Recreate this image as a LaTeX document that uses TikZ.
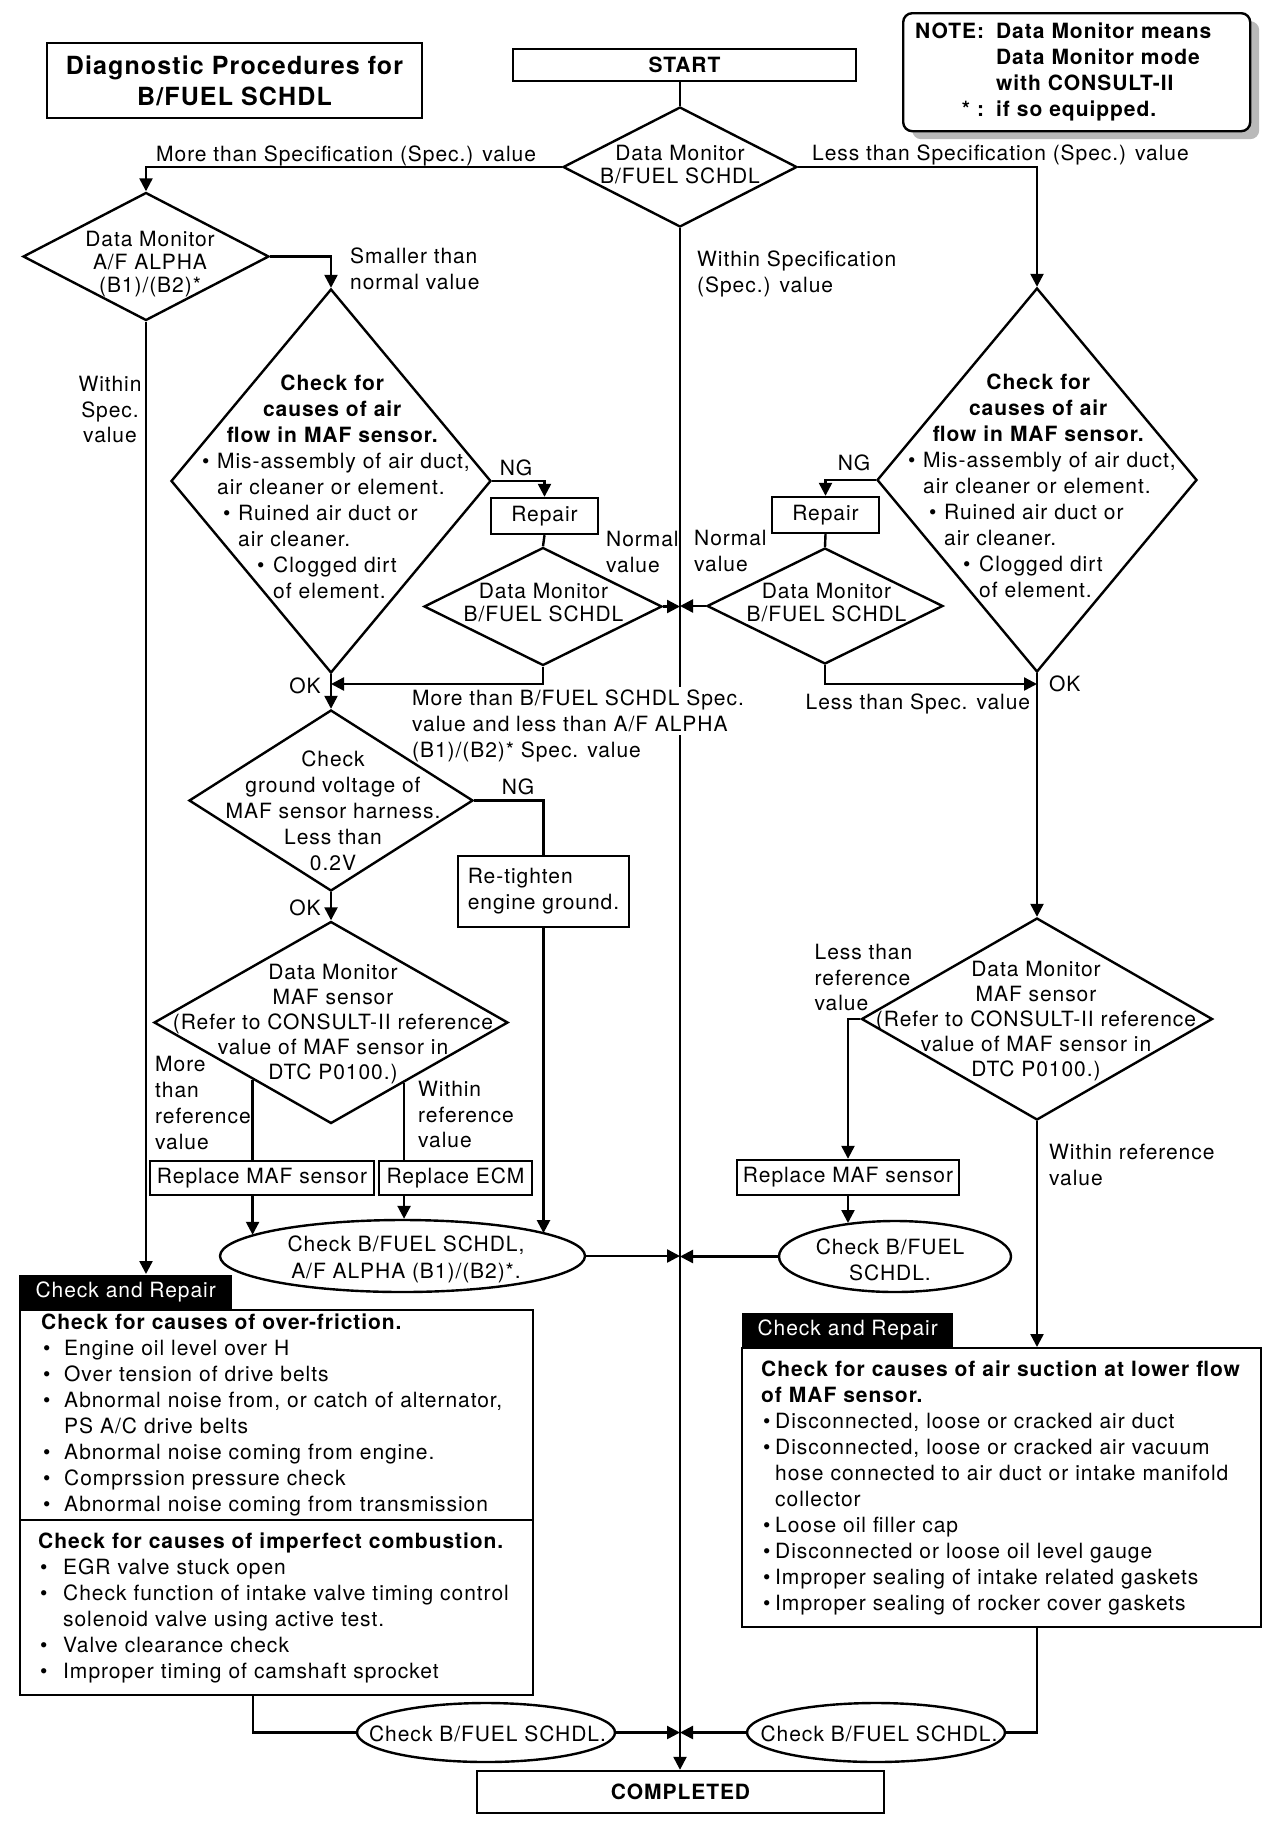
\documentclass[tikz,border=0pt]{standalone}
\usepackage{fontspec}
\setmainfont{TeX Gyre Heros}[LetterSpace=4.5]
\usetikzlibrary{shapes.geometric,arrows.meta,calc,shadows}

\newcommand{\bul}[1]{\makebox[#1][l]{•}}
\newcommand{\mafcauses}{%
  \makebox[270pt][c]{\bfseries Check for}\\
  \makebox[270pt][c]{\bfseries causes of air}\\
  \makebox[270pt][c]{\bfseries flow in MAF sensor.}\\
  \hspace*{5pt}\bul{15pt}Mis-assembly of air duct,\\
  \hspace*{20pt}air cleaner or element.\\
  \hspace*{26pt}\bul{15pt}Ruined air duct or\\
  \hspace*{41pt}air cleaner.\\
  \hspace*{60pt}\bul{16pt}Clogged dirt\\
  \hspace*{76pt}of element.}

\begin{document}
\begin{tikzpicture}[x=1pt,y=-1pt,line width=2.4pt,
  every node/.style={inner sep=0pt,font=\fontsize{21}{26}\selectfont},
  rbox/.style={draw,rectangle},
  dmnd/.style={draw,diamond},
  oval/.style={draw,ellipse},
  dtxt/.style={align=center,anchor=north,font=\fontsize{21}{23}\selectfont},
  lbl/.style={align=left,anchor=north west},
  tab/.style={fill=black,text=white,anchor=north west,minimum height=34pt},
  arr/.style={-{Stealth[length=13pt,width=13pt,inset=0pt]}}]
  \useasboundingbox (0,0) rectangle (1280,1826);

  % headers
  \node[rbox,minimum width=375pt,minimum height=75pt,align=center,
    font=\fontsize{25}{31}\selectfont\bfseries] (title) at (234.5,80.5)
    {Diagnostic Procedures for\\B/FUEL SCHDL};
  \node[rbox,minimum width=343pt,minimum height=32pt,
    font=\fontsize{21}{26}\selectfont\bfseries] (start) at (684.5,65) {START};
  \node[rbox,fill=white,rounded corners=9pt,anchor=north west,minimum width=347pt,
    minimum height=118pt,text width=323pt,align=left,
    font=\fontsize{21}{26}\selectfont\bfseries,
    drop shadow={shadow xshift=9pt,shadow yshift=-8pt,fill=gray!55,opacity=1}] (note) at (902,12)
    {\begin{tabular}{@{}r@{\hspace{12pt}}l@{}}NOTE: & Data Monitor means\\
      & Data Monitor mode\\ & with CONSULT-II\\ {*} : & if so equipped.\end{tabular}};

  % decisions
  \node[dmnd,minimum width=234pt,minimum height=120pt] (d1) at (680,167) {};
  \node[dtxt] (d1t) at (680,144) {Data Monitor\\B/FUEL SCHDL};
  \node[dmnd,minimum width=246pt,minimum height=128pt] (d2) at (146,256.5) {};
  \node[dtxt] (d2t) at (150,230) {Data Monitor\\A/F ALPHA\\(B1)/(B2)*};
  \node[dmnd,minimum width=320pt,minimum height=384pt] (d3) at (331,481) {};
  \node[anchor=north west,text width=290pt,align=left] (d3t) at (196,374) {\mafcauses};
  \node[dmnd,minimum width=238pt,minimum height=118pt] (d4) at (543,606.5) {};
  \node[dtxt] (d4t) at (543.5,582) {Data Monitor\\B/FUEL SCHDL};
  \node[dmnd,minimum width=320pt,minimum height=384pt] (d6) at (1037,480) {};
  \node[anchor=north west,text width=290pt,align=left] (d6t) at (902,373) {\mafcauses};
  \node[dmnd,minimum width=236pt,minimum height=116pt] (d7) at (825,606) {};
  \node[dtxt] (d7t) at (826.5,582) {Data Monitor\\B/FUEL SCHDL};
  \node[dmnd,minimum width=284pt,minimum height=181pt] (d5) at (331,800.5) {};
  \node[dtxt,font=\fontsize{21}{26}\selectfont] (d5t) at (333,750)
    {Check\\ground voltage of\\MAF sensor harness.\\Less than\\0.2V};
  \node[dmnd,minimum width=354pt,minimum height=202pt] (d8) at (331,1022.5) {};
  \node[dtxt,font=\fontsize{21}{25}\selectfont] (d8t) at (333,963)
    {Data Monitor\\MAF sensor\\(Refer to CONSULT-II reference\\value of MAF sensor in\\DTC P0100.)};
  \node[dmnd,minimum width=351pt,minimum height=202pt] (d9) at (1037,1019) {};
  \node[dtxt,font=\fontsize{21}{25}\selectfont] (d9t) at (1036,960)
    {Data Monitor\\MAF sensor\\(Refer to CONSULT-II reference\\value of MAF sensor in\\DTC P0100.)};

  % actions
  \node[rbox,minimum width=107pt,minimum height=36pt] (repL) at (544.5,516) {Repair};
  \node[rbox,minimum width=107pt,minimum height=36pt] (repR) at (825.5,515) {Repair};
  \node[rbox,minimum width=171pt,minimum height=71pt,align=left] (retighten) at (543.5,891.5)
    {Re-tighten\\engine ground.};
  \node[rbox,minimum width=224pt,minimum height=34pt] (repM) at (262,1178) {Replace MAF sensor};
  \node[rbox,minimum width=153pt,minimum height=34pt] (repE) at (455.5,1178) {Replace ECM};
  \node[rbox,minimum width=222pt,minimum height=35pt] (repM2) at (848,1177.5) {Replace MAF sensor};

  % checks
  \node[oval,minimum width=365pt,minimum height=72pt] (e1) at (402.5,1256) {};
  \node[dtxt,font=\fontsize{21}{27}\selectfont] (e1t) at (406,1235) {Check B/FUEL SCHDL,\\A/F ALPHA (B1)/(B2)*.};
  \node[oval,minimum width=232pt,minimum height=71pt] (e2) at (895,1256.5) {};
  \node[dtxt,font=\fontsize{21}{26}\selectfont] (e2t) at (890,1238) {Check B/FUEL\\SCHDL.};
  \node[oval,minimum width=258pt,minimum height=59pt] (e3) at (486,1732.5) {};
  \node[dtxt] (e3t) at (487.5,1725) {Check B/FUEL SCHDL.};
  \node[oval,minimum width=258pt,minimum height=59pt] (e4) at (876,1732.5) {};
  \node[dtxt] (e4t) at (879,1725) {Check B/FUEL SCHDL.};

  % check and repair
  \node[tab,minimum width=213pt] (cr1tab) at (18,1274) {Check and Repair};
  \node[rbox,anchor=north west,minimum width=513pt,minimum height=210pt,text width=500pt,
    align=left] (cr1a) at (19,1309) {%
    \hspace*{14.5pt}\textbf{Check for causes of over-friction.}\\
    \hspace*{16.5pt}\bul{21pt}Engine oil level over H\\
    \hspace*{16.5pt}\bul{21pt}Over tension of drive belts\\
    \hspace*{16.5pt}\bul{21pt}Abnormal noise from, or catch of alternator,\\
    \hspace*{37.5pt}PS A/C drive belts\\
    \hspace*{16.5pt}\bul{21pt}Abnormal noise coming from engine.\\
    \hspace*{16.5pt}\bul{21pt}Comprssion pressure check\\
    \hspace*{16.5pt}\bul{21pt}Abnormal noise coming from transmission};
  \node[rbox,anchor=north west,minimum width=513pt,minimum height=175pt,text width=500pt,
    align=left] (cr1b) at (19,1519) {%
    \hspace*{11.5pt}\textbf{Check for causes of imperfect combustion.}\\
    \hspace*{13.5pt}\bul{23pt}EGR valve stuck open\\
    \hspace*{13.5pt}\bul{23pt}Check function of intake valve timing control\\
    \hspace*{36.5pt}solenoid valve using active test.\\
    \hspace*{13.5pt}\bul{23pt}Valve clearance check\\
    \hspace*{13.5pt}\bul{23pt}Improper timing of camshaft sprocket};
  \node[tab,minimum width=211pt] (cr2tab) at (741,1312) {Check and Repair};
  \node[rbox,anchor=north west,minimum width=519pt,minimum height=279pt,text width=505pt,
    align=left] (cr2) at (741,1347) {%
    \hspace*{12pt}\textbf{Check for causes of air suction at lower flow}\\
    \hspace*{12pt}\textbf{of MAF sensor.}\\
    \hspace*{14pt}\bul{12pt}Disconnected, loose or cracked air duct\\
    \hspace*{14pt}\bul{12pt}Disconnected, loose or cracked air vacuum\\
    \hspace*{26pt}hose connected to air duct or intake manifold\\
    \hspace*{26pt}collector\\
    \hspace*{14pt}\bul{12pt}Loose oil filler cap\\
    \hspace*{14pt}\bul{12pt}Disconnected or loose oil level gauge\\
    \hspace*{14pt}\bul{12pt}Improper sealing of intake related gaskets\\
    \hspace*{14pt}\bul{12pt}Improper sealing of rocker cover gaskets};

  \node[rbox,minimum width=407pt,minimum height=42pt,
    font=\fontsize{21}{26}\selectfont\bfseries] (completed) at (680.5,1792) {COMPLETED};

  % connectors
  \coordinate (okl) at (331,684);
  \coordinate (okr) at (1037,684);
  \coordinate (d8l) at ($(d8.south)!0.44!(d8.west)$);
  \coordinate (d8r) at ($(d8.south)!0.41!(d8.east)$);
  \draw (start.south -| d1.north) -- (d1.north);
  \draw[arr] (d1.west) -| (d2.north);
  \draw[arr] (d1.east) -| (d6.north);
  \draw[arr] (d1.south) -- (d1.south |- completed.north);
  \draw[arr] (d2.east) -| (d3.north);
  \draw[arr] (d2.south) -- (d2.south |- cr1tab.north);
  \draw[arr] (d3.east) -| (repL.north);
  \draw (repL.south) -- (d4.north);
  \draw[arr] (d4.east) -- (d4.east -| d1.south);
  \draw[arr] (d4.south) |- (okl);
  \draw[arr] (d3.south) -- (d5.north);
  \draw (d5.east) -| (retighten.north);
  \draw[arr] (retighten.south) -- (retighten.south |- e1.9);
  \draw[arr] (d5.south) -- (d8.north);
  \draw (d8l) -- (d8l |- repM.north);
  \draw (d8r) -- (d8r |- repE.north);
  \draw[arr] (d8l |- repM.south) -- (d8l |- e1.172);
  \draw[arr] (d8r |- repE.south) -- (d8r |- e1.north);
  \draw[arr] (e1.east) -- (e1.east -| d1.south);
  \draw[arr] (d6.west) -| (repR.north);
  \draw (repR.south) -- (d7.north);
  \draw[arr] (d7.west) -- (d7.west -| d1.south);
  \draw[arr] (d7.south) |- (okr);
  \draw[arr] (d6.south) -- (d9.north);
  \draw[arr] (d9.west) -| (repM2.north);
  \draw[arr] (repM2.south) -- (repM2.south |- e2.145);
  \draw[arr] (e2.west) -- (e2.west -| d1.south);
  \draw[arr] (d9.south) -- (d9.south |- cr2.north);
  \draw ([xshift=-23.5pt]cr1b.south) |- (e3.west);
  \draw[arr] (e3.east) -- (e3.east -| d1.south);
  \draw (cr2.south -| d9.south) |- (e4.east);
  \draw[arr] (e4.west) -- (e4.west -| d1.south);

  % branch labels
  \node[lbl] (lmore) at (155,145) {More than Specification (Spec.) value};
  \node[lbl] (lless) at (811,144) {Less than Specification (Spec.) value};
  \node[lbl] (lwithin) at (696,250) {Within Specification\\(Spec.) value};
  \node[lbl] (lsmall) at (349,247) {Smaller than\\normal value};
  \node[align=center,anchor=north,font=\fontsize{21}{25.5}\selectfont] (lwspec) at (110,375) {Within\\Spec.\\value};
  \node[anchor=north] (lng1) at (516,459) {NG};
  \node[lbl] (lnorm1) at (605,530) {Normal\\value};
  \node[anchor=north] (lok1) at (305,677) {OK};
  \node[lbl,fill=white,inner xsep=2pt,inner ysep=3pt] (lmoreB) at (409,686)
    {More than B/FUEL SCHDL Spec.\\value and less than A/F ALPHA};
  \node[lbl] (lmoreC) at (411,741) {(B1)/(B2)* Spec. value};
  \node[anchor=north] (lng2) at (518,778) {NG};
  \node[anchor=north] (lok2) at (305,899) {OK};
  \node[lbl] (lmref) at (154,1055) {More\\than\\reference\\value};
  \node[lbl,font=\fontsize{21}{25.5}\selectfont] (lwref) at (417,1080) {Within\\reference\\value};
  \node[anchor=north] (lng3) at (854,454) {NG};
  \node[lbl] (lnorm2) at (693,529) {Normal\\value};
  \node[lbl] (lless2) at (804.5,693) {Less than Spec. value};
  \node[lbl] (lok3) at (1048,675) {OK};
  \node[lbl,font=\fontsize{21}{25.5}\selectfont] (llref) at (813.5,943) {Less than\\reference\\value};
  \node[lbl,font=\fontsize{21}{25.5}\selectfont] (lwref2) at (1048,1143) {Within reference\\value};
\end{tikzpicture}
\end{document}
